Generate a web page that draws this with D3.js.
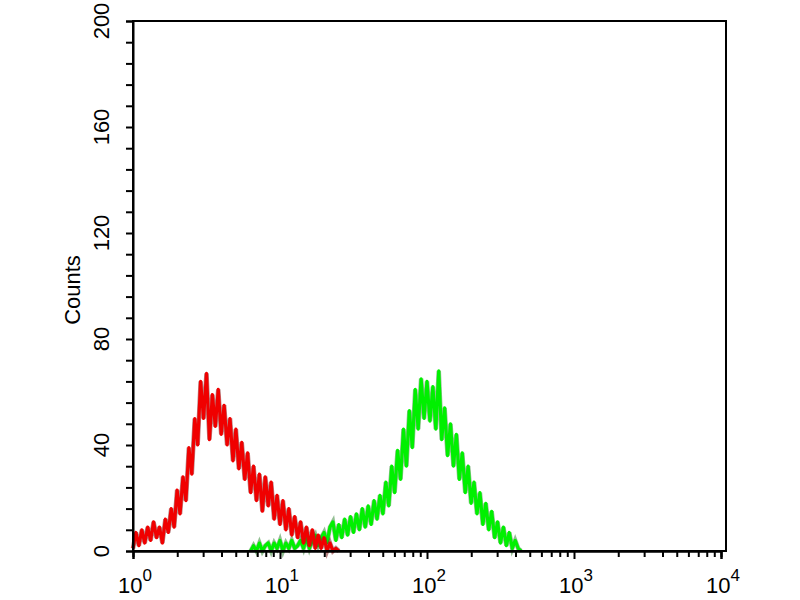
<!DOCTYPE html>
<html lang="en">
<head>
  <meta charset="UTF-8">
  <title>Flow cytometry histogram</title>
  <style>
    body { margin: 0; background: #fff; }
    svg { display: block; font-family: "Liberation Sans", Arial, sans-serif; }
  </style>
</head>
<body>
  <div id="chart"></div>
  <script src="https://d3js.org/d3.v7.min.js"></script>
  <script>
    // histogram channels: log10 position of first channel and channel width (decades)
    const redStart = 0.00;
    const greenStart = 0.80;
    const channelWidth = 0.02;

    // counts per channel
    const redCounts = [1, 7, 2, 8, 3, 9, 4, 11, 5, 9, 3,
      12, 7, 16, 9, 23, 14, 28, 19, 39, 29,
      50, 40, 64, 50, 67, 42, 59, 47, 61, 44,
      55, 40, 50, 34, 46, 31, 41, 27, 37, 22,
      32, 19, 29, 15, 28, 17, 26, 12, 21, 10,
      19, 8, 16, 6, 13, 5, 11, 3, 9, 2,
      8, 1, 6, 1, 5, 0, 3, 0, 1, 0];
    const greenCounts = [0, 2, 0, 3, 0, 2, 3, 0, 3, 1,
      4, 0, 3, 1, 4, 1, 2, 4, 1, 5,
      1, 4, 6, 2, 5, 7, 3, 9, 11, 4,
      10, 5, 12, 6, 13, 7, 14, 8, 16, 9,
      17, 10, 19, 12, 21, 14, 26, 17, 32, 22,
      38, 27, 46, 32, 53, 39, 61, 46, 65, 50,
      64, 49, 62, 46, 68, 42, 54, 36, 48, 32,
      44, 27, 37, 22, 32, 18, 26, 14, 22, 10,
      18, 8, 15, 5, 11, 3, 9, 2, 7, 1,
      4, 1, 0];

    const yMajor = [0, 40, 80, 120, 160, 200];
    const decades = [0, 1, 2, 3, 4];

    const W = 800, H = 600;
    const plotL = 133, plotT = 21, plotR = 726, plotB = 551;

    const x = d3.scaleLog().domain([1, 1e4]).range([plotL, 721]);
    const y = d3.scaleLinear().domain([0, 200]).range([plotB, plotT]);

    const svg = d3.select('#chart').append('svg')
      .attr('width', W).attr('height', H);

    // curves (green under red), each with a darker edge underneath
    const toPoints = (counts, start) =>
      counts.map((c, i) => ({ v: Math.pow(10, start + i * channelWidth), c }));
    const line = d3.line().x(d => x(d.v)).y(d => y(d.c));

    function drawSeries(counts, start, color, edge) {
      const pts = toPoints(counts, start);
      svg.append('path')
        .datum(pts)
        .attr('d', line)
        .attr('fill', 'none')
        .attr('stroke', edge)
        .attr('stroke-opacity', 0.55)
        .attr('stroke-width', 4.5)
        .attr('stroke-linejoin', 'miter');
      svg.append('path')
        .datum(pts)
        .attr('d', line)
        .attr('fill', 'none')
        .attr('stroke', color)
        .attr('stroke-width', 3.2)
        .attr('stroke-linejoin', 'round');
    }
    drawSeries(greenCounts, greenStart, '#00f000', '#3a8a3a');
    drawSeries(redCounts, redStart, '#f00000', '#802020');

    // frame
    svg.append('rect')
      .attr('x', plotL).attr('y', plotT)
      .attr('width', plotR - plotL).attr('height', plotB - plotT)
      .attr('fill', 'none').attr('stroke', '#000').attr('stroke-width', 2);

    // y axis: minor ticks every 8, labels every 40
    const yAxis = d3.axisLeft(y)
      .tickValues(d3.range(0, 201, 8))
      .tickSize(7)
      .tickFormat('');
    const gy = svg.append('g').attr('transform', `translate(${plotL},0)`).call(yAxis);
    gy.select('.domain').attr('stroke-width', 2);
    gy.selectAll('.tick line').attr('stroke-width', 2);

    svg.selectAll('.ylab')
      .data(yMajor)
      .enter().append('text')
      .attr('class', 'ylab')
      .attr('transform', d => `translate(109,${y(d)}) rotate(-90)`)
      .attr('text-anchor', 'middle')
      .attr('font-size', 22)
      .text(d => d);

    svg.append('text')
      .attr('transform', `translate(80,290) rotate(-90)`)
      .attr('text-anchor', 'middle')
      .attr('font-size', 22)
      .text('Counts');

    // x axis: decades plus 2..9 minor ticks
    const minor = [];
    decades.slice(0, -1).forEach(d => {
      for (let k = 2; k <= 9; k++) minor.push(k * Math.pow(10, d));
    });
    const major = decades.map(d => Math.pow(10, d));

    const gx = svg.append('g').attr('transform', `translate(0,${plotB})`);
    gx.call(d3.axisBottom(x).tickValues(major).tickSize(8).tickFormat(''));
    gx.append('g').call(d3.axisBottom(x).tickValues(minor).tickSize(6).tickFormat(''));
    gx.selectAll('.domain').attr('stroke-width', 2);
    gx.selectAll('.tick line').attr('stroke-width', 2);

    const xl = svg.selectAll('.xlab')
      .data(decades)
      .enter().append('text')
      .attr('class', 'xlab')
      .attr('x', d => x(Math.pow(10, d)) + 2)
      .attr('y', 593)
      .attr('text-anchor', 'middle')
      .attr('font-size', 22);
    xl.append('tspan').text('10');
    xl.append('tspan')
      .attr('dy', -12)
      .attr('font-size', 17)
      .text(d => d);
  </script>
</body>
</html>
